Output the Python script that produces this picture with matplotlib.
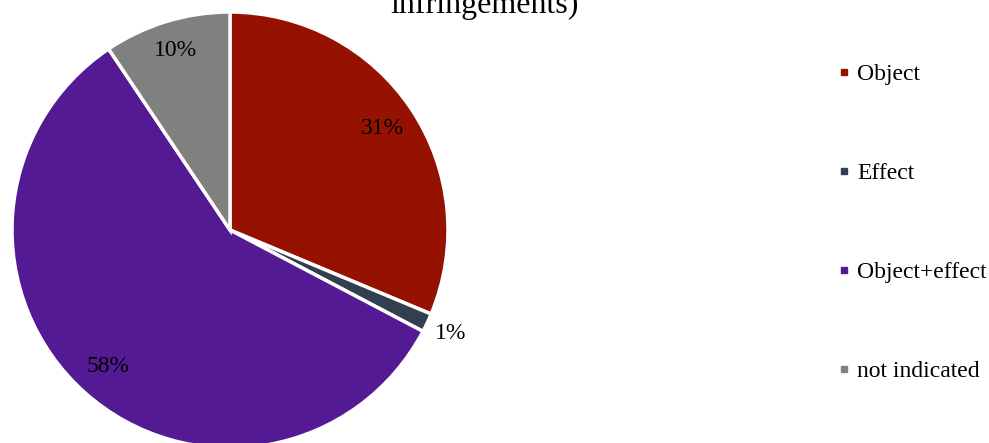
import numpy as np
import matplotlib
matplotlib.use("Agg")
import matplotlib.pyplot as plt
from matplotlib.lines import Line2D

plt.rcParams['font.family'] = ['Liberation Serif', 'DejaVu Serif']

categories = ['Object', 'Effect', 'Object+effect', 'not indicated']
shares = [31.3, 1.4, 57.9, 9.4]
pct_labels = ['31%', '1%', '58%', '10%']
colors = ['#961200', '#333f50', '#541a94', '#808080']

W, H = 989, 443
fig = plt.figure(figsize=(W / 100, H / 100), dpi=100)

# pie axes placed in pixel terms: centre (230, 230), radius 218
cx, cy, r = 230, 230, 218
ax = fig.add_axes([(cx - r) / W, (H - cy - r) / H, 2 * r / W, 2 * r / H])
wedges, _ = ax.pie(shares, colors=colors, startangle=90, counterclock=False,
                   radius=1, wedgeprops=dict(edgecolor='white', linewidth=2.5))
ax.set_xlim(-1, 1)
ax.set_ylim(-1, 1)
ax.set_aspect('equal')
ax.axis('off')

# percentage labels, the tiny slice gets its label outside
dists = [0.84, 1.12, 0.84, 0.86]
for w, lab, d in zip(wedges, pct_labels, dists):
    ang = np.deg2rad((w.theta1 + w.theta2) / 2)
    ax.text(d * np.cos(ang), d * np.sin(ang), lab, ha='center', va='center',
            fontsize=17, clip_on=False)

# title, only its last line fits in the frame
fig.text(485 / W, 1 - 13 / H, 'infringements)', ha='center', va='baseline',
         fontsize=23)

handles = [Line2D([], [], marker='s', linestyle='none', markersize=5,
                  markerfacecolor=c, markeredgecolor=c) for c in colors]
fig.legend(handles, categories, loc='upper left',
           bbox_to_anchor=(829 / W, 1 - 54 / H), frameon=False, fontsize=17,
           labelspacing=3.28, handlelength=0.5, handletextpad=0.3,
           borderaxespad=0)

fig.savefig('out.png', dpi=100)
